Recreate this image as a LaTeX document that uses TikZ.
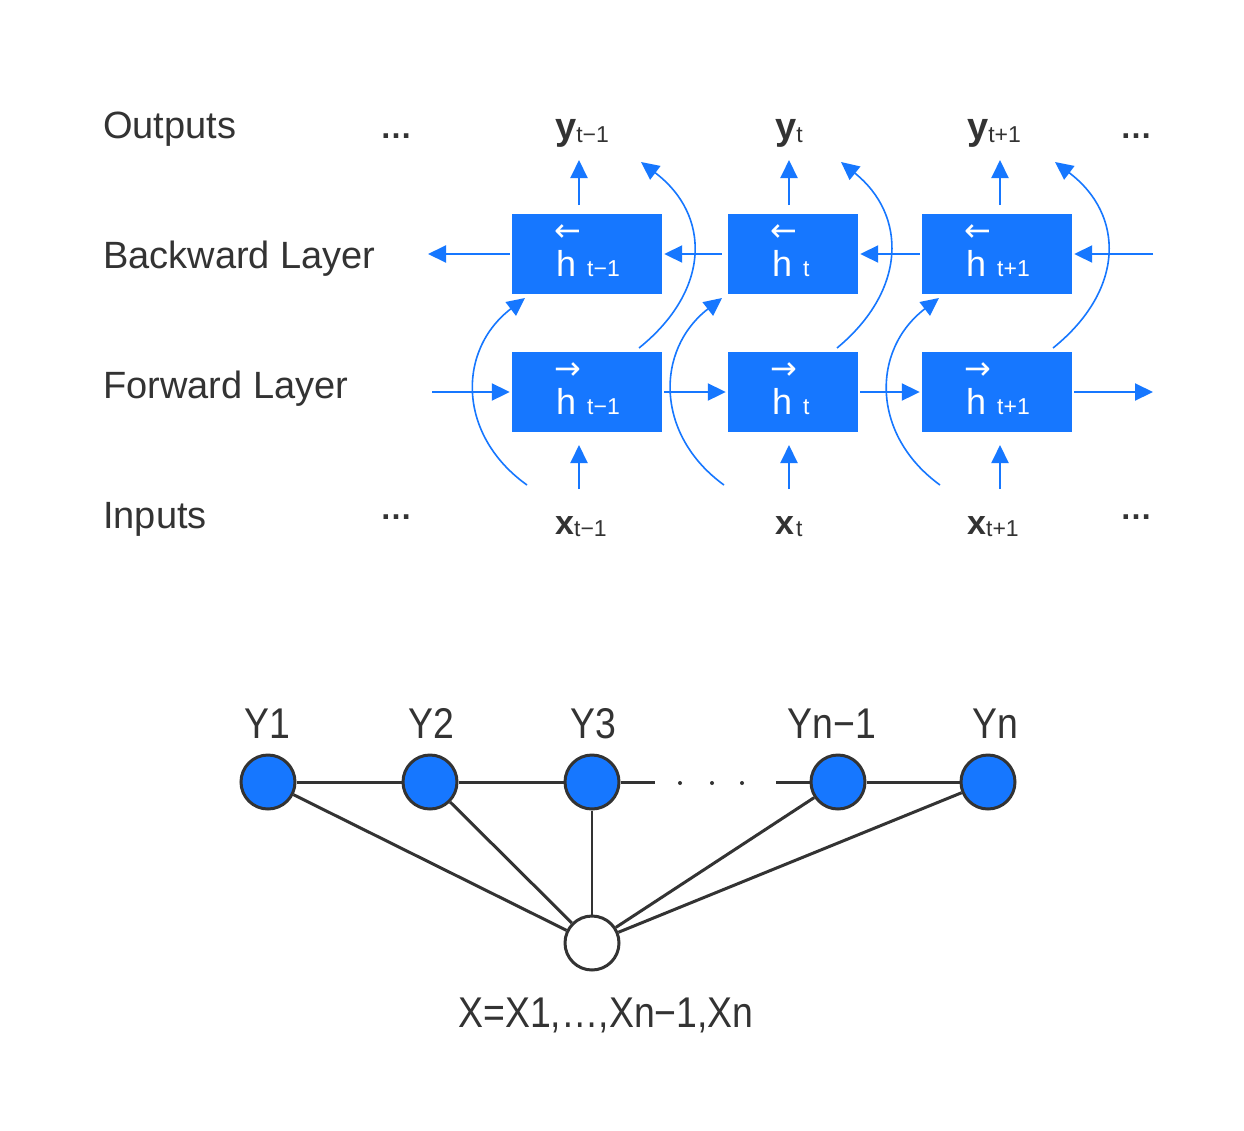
\documentclass[tikz,border=0pt]{standalone}
\usepackage{fontspec}
\setmainfont{Liberation Sans}
\newfontfamily\symfont{DejaVu Sans}
\newfontfamily\narrowfont{Liberation Sans}[FakeStretch=0.87]
\usetikzlibrary{arrows.meta}
\definecolor{nnblue}{RGB}{22,119,255}
\definecolor{ink}{RGB}{51,51,51}
\newcommand\fs[1]{\fontsize{#1}{#1}\selectfont}
\begin{document}
\begin{tikzpicture}[x=1pt,y=-1pt,
  lab/.style={inner sep=0pt, text=ink, font=\fs{38}, anchor=base west},
  ellip/.style={inner sep=0pt, text=ink, font=\fs{32}\bfseries, anchor=base},
  hbox/.style={fill=nnblue, draw=none, inner sep=0pt, minimum height=80pt},
  htext/.style={inner sep=0pt, text=white, font=\fs{36}, anchor=base west},
  harrow/.style={inner sep=0pt, text=white, font=\symfont\fs{32}},
  seqlab/.style={inner sep=0pt, text=ink, anchor=base west},
  conn/.style={draw=nnblue, line width=2pt, -{Triangle[length=18pt,width=17pt]}},
  curvearrow/.style={draw=nnblue, line width=1.6pt, -{Triangle[length=18pt,width=17pt]}},
  ynode/.style={circle, draw=ink, line width=3pt, fill=nnblue, minimum size=54pt, inner sep=0pt},
  xnode/.style={circle, draw=ink, line width=3pt, fill=white, minimum size=54pt, inner sep=0pt},
  gline/.style={draw=ink, line width=3pt},
  glab/.style={inner sep=0pt, text=ink, font=\narrowfont\fs{43}, anchor=base},
]
\useasboundingbox[fill=white] (0,0) rectangle (1244,1130);

% row labels
\node[lab] (outputs) at (103,138) {Outputs};
\node[lab] (backward) at (103,268) {Backward Layer};
\node[lab] (forward) at (103,398) {Forward Layer};
\node[lab] (inputs) at (103,528) {Inputs};

\node[ellip] (e1) at (396,138) {…};
\node[ellip] (e2) at (396,519) {…};
\node[ellip] (e3) at (1136,138) {…};
\node[ellip] (e4) at (1136,519) {…};

% boxes
\node[hbox, minimum width=150pt] (bb1) at (587,254) {};
\node[hbox, minimum width=130pt] (bb2) at (793,254) {};
\node[hbox, minimum width=150pt] (bb3) at (997,254) {};
\node[hbox, minimum width=150pt] (fb1) at (587,392) {};
\node[hbox, minimum width=130pt] (fb2) at (793,392) {};
\node[hbox, minimum width=150pt] (fb3) at (997,392) {};

% box texts
\node[harrow] (bb1a) at (568,233) {←};
\node[harrow] (bb2a) at (784,233) {←};
\node[harrow] (bb3a) at (978,233) {←};
\node[harrow] (fb1a) at (568,371) {→};
\node[harrow] (fb2a) at (784,371) {→};
\node[harrow] (fb3a) at (978,371) {→};
\node[htext] (bb1h) at (556,276) {h\hspace{11pt}{\fs{23}t−1}};
\node[htext] (bb2h) at (772,276) {h\hspace{11pt}{\fs{23}t}};
\node[htext] (bb3h) at (966,276) {h\hspace{11pt}{\fs{23}t+1}};
\node[htext] (fb1h) at (556,414) {h\hspace{11pt}{\fs{23}t−1}};
\node[htext] (fb2h) at (772,414) {h\hspace{11pt}{\fs{23}t}};
\node[htext] (fb3h) at (966,414) {h\hspace{11pt}{\fs{23}t+1}};

% outputs / inputs
\node[seqlab] (y1) at (555,139) {{\fs{38}\bfseries y}\raisebox{-3pt}{\fs{23}t−1}};
\node[seqlab] (y2) at (775,139) {{\fs{38}\bfseries y}\raisebox{-3pt}{\fs{23}t}};
\node[seqlab] (y3) at (967,139) {{\fs{38}\bfseries y}\raisebox{-3pt}{\fs{23}t+1}};
\node[seqlab] (x1) at (555,534) {{\fs{34}\bfseries x}\raisebox{-2pt}{\fs{23}t−1}};
\node[seqlab] (x2) at (775,534) {{\fs{34}\bfseries x}\hspace{2pt}\raisebox{-2pt}{\fs{23}t}};
\node[seqlab] (x3) at (967,534) {{\fs{34}\bfseries x}\raisebox{-2pt}{\fs{23}t+1}};

% vertical arrows
\coordinate (o1s) at (579,205); \coordinate (o1e) at (579,160);
\coordinate (o2s) at (789,205); \coordinate (o2e) at (789,160);
\coordinate (o3s) at (1000,205); \coordinate (o3e) at (1000,160);
\coordinate (i1s) at (579,489); \coordinate (i1e) at (579,445);
\coordinate (i2s) at (789,489); \coordinate (i2e) at (789,445);
\coordinate (i3s) at (1000,489); \coordinate (i3e) at (1000,445);
\foreach \a in {o1,o2,o3,i1,i2,i3} \draw[conn] (\a s) -- (\a e);

% horizontal arrows
\coordinate (bl) at (428,254);
\coordinate (br) at (1153,254);
\coordinate (fl) at (432,392);
\coordinate (fr) at (1153,392);
\draw[conn] (br) -- ([xshift=2pt]bb3.east);
\draw[conn] ([xshift=-2pt]bb3.west) -- ([xshift=2pt]bb2.east);
\draw[conn] ([xshift=-6pt]bb2.west) -- ([xshift=2pt]bb1.east);
\draw[conn] ([xshift=-2pt]bb1.west) -- (bl);
\draw[conn] (fl) -- ([xshift=-2pt]fb1.west);
\draw[conn] ([xshift=2pt]fb1.east) -- ([xshift=-2pt]fb2.west);
\draw[conn] ([xshift=2pt]fb2.east) -- ([xshift=-2pt]fb3.west);
\draw[conn] ([xshift=2pt]fb3.east) -- (fr);

% curved connections: input to backward layer
\coordinate (c1s) at (527,485); \coordinate (c1e) at (525,298);
\coordinate (c2s) at (724,485); \coordinate (c2e) at (722,298);
\coordinate (c3s) at (940,485); \coordinate (c3e) at (939,298);
\draw[curvearrow] (c1s) .. controls (457,435) and (457,350) .. (c1e);
\draw[curvearrow] (c2s) .. controls (655,435) and (655,350) .. (c2e);
\draw[curvearrow] (c3s) .. controls (871,435) and (871,350) .. (c3e);
% forward layer to output
\coordinate (u1s) at (639,348); \coordinate (u1e) at (641,162);
\coordinate (u2s) at (837,348); \coordinate (u2e) at (841,162);
\coordinate (u3s) at (1053,348); \coordinate (u3e) at (1055,162);
\draw[curvearrow] (u1s) .. controls (711,290) and (711,215) .. (u1e);
\draw[curvearrow] (u2s) .. controls (907,290) and (907,215) .. (u2e);
\draw[curvearrow] (u3s) .. controls (1125,290) and (1125,215) .. (u3e);

% bottom graph
\coordinate (g3r) at (655,782);
\coordinate (g4l) at (776,782);
\node[ynode] (Y1) at (268,782) {};
\node[ynode] (Y2) at (430,782) {};
\node[ynode] (Y3) at (592,782) {};
\node[ynode] (Yn1) at (838,782) {};
\node[ynode] (Yn) at (988,782) {};
\node[xnode] (X) at (592,943) {};
\begin{scope}[on background layer/.try]
\end{scope}
\draw[gline] (Y1) -- (Y2);
\draw[gline] (Y2) -- (Y3);
\draw[gline] (Y3) -- (g3r);
\draw[gline] (g4l) -- (Yn1);
\draw[gline] (Yn1) -- (Yn);
\draw[gline] (Y1) -- (X);
\draw[gline] (Y2) -- (X);
\draw[draw=ink, line width=2pt] (Y3) -- (X);
\draw[gline] (Yn1) -- (X);
\draw[gline] (Yn) -- (X);
\foreach \d in {680,712,742} \fill[ink] (\d,783) circle (2pt);

\node[glab] (lY1) at (267,738) {Y1};
\node[glab] (lY2) at (431,738) {Y2};
\node[glab] (lY3) at (593,738) {Y3};
\node[glab] (lYn1) at (832,738) {Yn−1};
\node[glab] (lYn) at (995,738) {Yn};
\node[glab] (lX) at (606,1027) {X=X1,…,Xn−1,Xn};
\end{tikzpicture}
\end{document}
